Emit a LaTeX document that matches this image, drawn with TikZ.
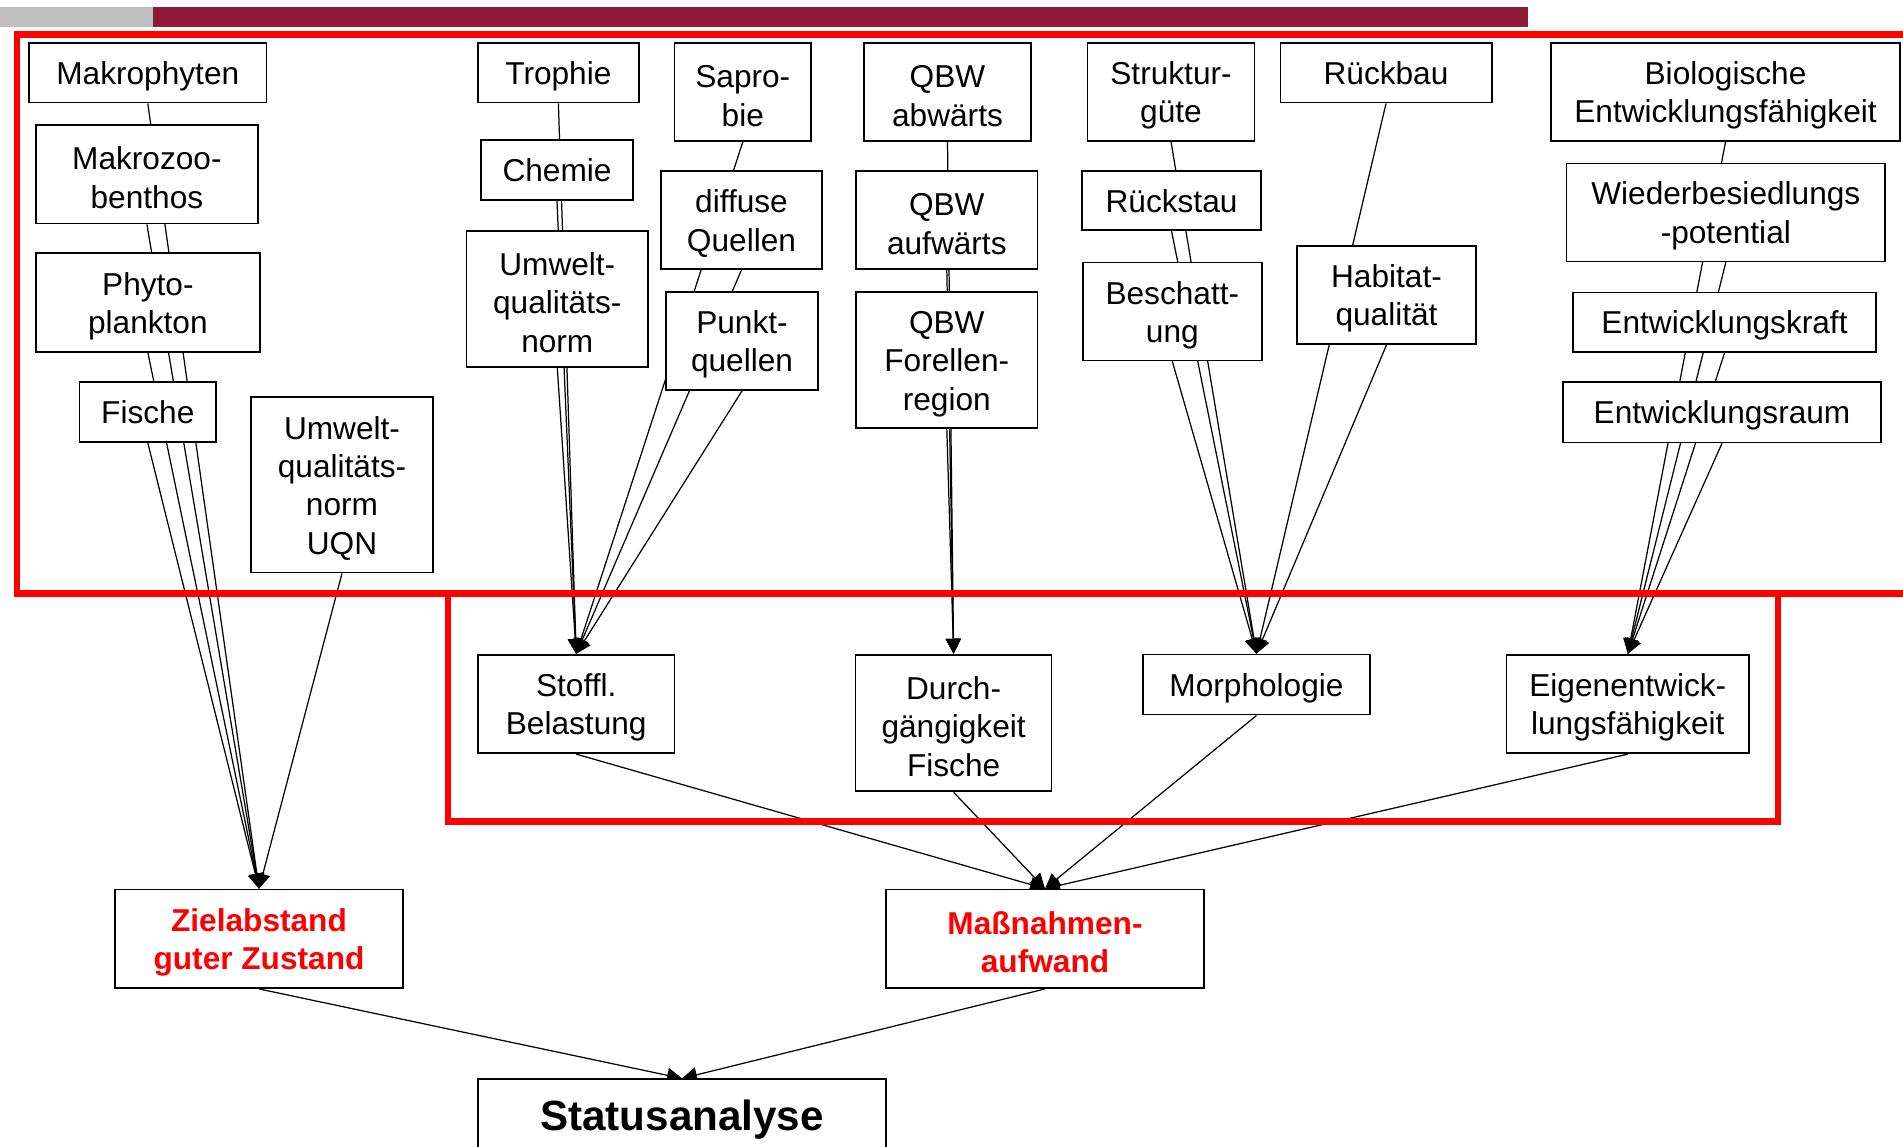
\documentclass[tikz,border=0pt]{standalone}
\usepackage{fontspec}
\setmainfont{Liberation Sans}
\usetikzlibrary{arrows.meta}
\definecolor{barred}{HTML}{8E1A38}
\newcommand{\sst}{\rule[-0.2em]{0pt}{1.15em}}
\pgfdeclarelayer{bg}
\pgfsetlayers{bg,main}
\begin{document}
\begin{tikzpicture}[
  font=\fontsize{9}{10.9}\selectfont,
  box/.style={draw,fill=white,line width=0.5pt,align=center,inner sep=0pt},
  goal/.style={box,text=red,font=\fontsize{9}{10.9}\selectfont\bfseries},
  arr/.style={line width=0.35pt,-{Triangle[length=0.15cm,width=0.15cm]}},
  frame/.style={draw=red,line width=1.9pt}
]
\useasboundingbox (0,0) rectangle (19.03,-11.47);
% header bar
\fill[gray!50] (0,-0.069) rectangle (1.53,-0.268);
\fill[barred] (1.53,-0.069) rectangle (15.28,-0.268);
% first level
\node[box,minimum width=2.375cm,minimum height=0.596cm] (mph) at (1.478,-0.728) {\sst Makrophyten};
\node[box,minimum width=2.223cm,minimum height=0.987cm] (mzb) at (1.469,-1.742) {\sst Makrozoo-\\benthos};
\node[box,minimum width=2.243cm,minimum height=0.99cm] (phy) at (1.479,-3.025) {\sst Phyto-\\plankton};
\node[box,minimum width=1.365cm,minimum height=0.60cm] (fis) at (1.478,-4.12) {\sst Fische};
\node[box,minimum width=1.82cm,minimum height=1.755cm] (uqn) at (3.42,-4.848) {\sst Umwelt-\\qualitäts-\\norm\\UQN};
\node[box,minimum width=1.613cm,minimum height=0.596cm] (tro) at (5.584,-0.728) {\sst Trophie};
\node[box,minimum width=1.52cm,minimum height=0.60cm] (che) at (5.57,-1.70) {\sst Chemie};
\node[box,minimum width=1.815cm,minimum height=1.36cm] (uqs) at (5.573,-2.99) {\sst Umwelt-\\qualitäts-\\norm};
\node[box,minimum width=1.365cm,minimum height=0.98cm] (sap) at (7.428,-0.92) {\sst Sapro-\\bie};
\node[box,minimum width=1.61cm,minimum height=0.98cm] (dif) at (7.415,-2.20) {\sst diffuse\\Quellen};
\node[box,minimum width=1.515cm,minimum height=0.98cm] (pkt) at (7.42,-3.41) {\sst Punkt-\\quellen};
\node[box,minimum width=1.67cm,minimum height=0.98cm] (qab) at (9.475,-0.92) {\sst QBW\\abwärts};
\node[box,minimum width=1.815cm,minimum height=0.98cm] (qau) at (9.468,-2.20) {\sst QBW\\aufwärts};
\node[box,minimum width=1.815cm,minimum height=1.36cm] (qfo) at (9.468,-3.60) {\sst QBW\\Forellen-\\region};
\node[box,minimum width=1.67cm,minimum height=0.98cm] (stg) at (11.71,-0.92) {\sst Struktur-\\güte};
\node[box,minimum width=1.79cm,minimum height=0.59cm] (rst) at (11.715,-2.005) {\sst Rückstau};
\node[box,minimum width=1.786cm,minimum height=0.98cm] (bes) at (11.723,-3.115) {\sst Beschatt-\\ung};
\node[box,minimum width=2.112cm,minimum height=0.596cm] (rba) at (13.86,-0.728) {\sst Rückbau};
\node[box,minimum width=1.79cm,minimum height=0.98cm] (hab) at (13.865,-2.95) {\sst Habitat-\\qualität};
\node[box,minimum width=3.49cm,minimum height=0.98cm] (bio) at (17.255,-0.92) {\sst Biologische\\Entwicklungsfähigkeit};
\node[box,minimum width=3.185cm,minimum height=0.98cm] (wbp) at (17.258,-2.124) {\sst Wiederbesiedlungs\\-potential};
\node[box,minimum width=3.03cm,minimum height=0.596cm] (ekr) at (17.245,-3.222) {\sst Entwicklungskraft};
\node[box,minimum width=3.18cm,minimum height=0.604cm] (era) at (17.22,-4.122) {\sst Entwicklungsraum};
% second level
\node[box,minimum width=1.964cm,minimum height=0.985cm] (sto) at (5.762,-7.04) {\sst Stoffl.\\Belastung};
\node[box,minimum width=1.96cm,minimum height=1.367cm] (dur) at (9.536,-7.23) {\sst Durch-\\gängigkeit\\Fische};
\node[box,minimum width=2.27cm,minimum height=0.60cm] (mor) at (12.565,-6.846) {\sst Morphologie};
\node[box,minimum width=2.425cm,minimum height=0.985cm] (eig) at (16.278,-7.04) {\sst Eigenentwick-\\lungsfähigkeit};
% goals
\node[goal,minimum width=2.88cm,minimum height=0.985cm] (ziel) at (2.59,-9.388) {\sst Zielabstand\\guter Zustand};
\node[goal,minimum width=3.18cm,minimum height=0.985cm] (mass) at (10.45,-9.388) {\sst Maßnahmen-\\aufwand};
\node[box,font=\fontsize{12}{14}\selectfont\bfseries,minimum width=4.08cm,minimum height=0.72cm] (stat) at (6.82,-11.153) {\sst Statusanalyse};
% connectors behind the boxes
\begin{pgfonlayer}{bg}
\foreach \s in {mph,mzb,phy,fis,uqn} \draw[arr] (\s.south) -- (ziel.north);
\foreach \s in {tro,che,uqs,sap,dif,pkt} \draw[arr] (\s.south) -- (sto.north);
\foreach \s in {qab,qau,qfo} \draw[arr] (\s.south) -- (dur.north);
\foreach \s in {stg,rst,bes,rba,hab} \draw[arr] (\s.south) -- (mor.north);
\foreach \s in {bio,wbp,ekr,era} \draw[arr] (\s.south) -- (eig.north);
\foreach \s in {sto,dur,mor,eig} \draw[arr] (\s.south) -- (mass.north);
\foreach \s in {ziel,mass} \draw[arr] (\s.south) -- (stat.north);
\end{pgfonlayer}
% red frames
\draw[frame] (0.17,-0.345) rectangle (19.6,-5.935);
\draw[frame] (4.48,-5.935) rectangle (17.78,-8.216);
\end{tikzpicture}
\end{document}
